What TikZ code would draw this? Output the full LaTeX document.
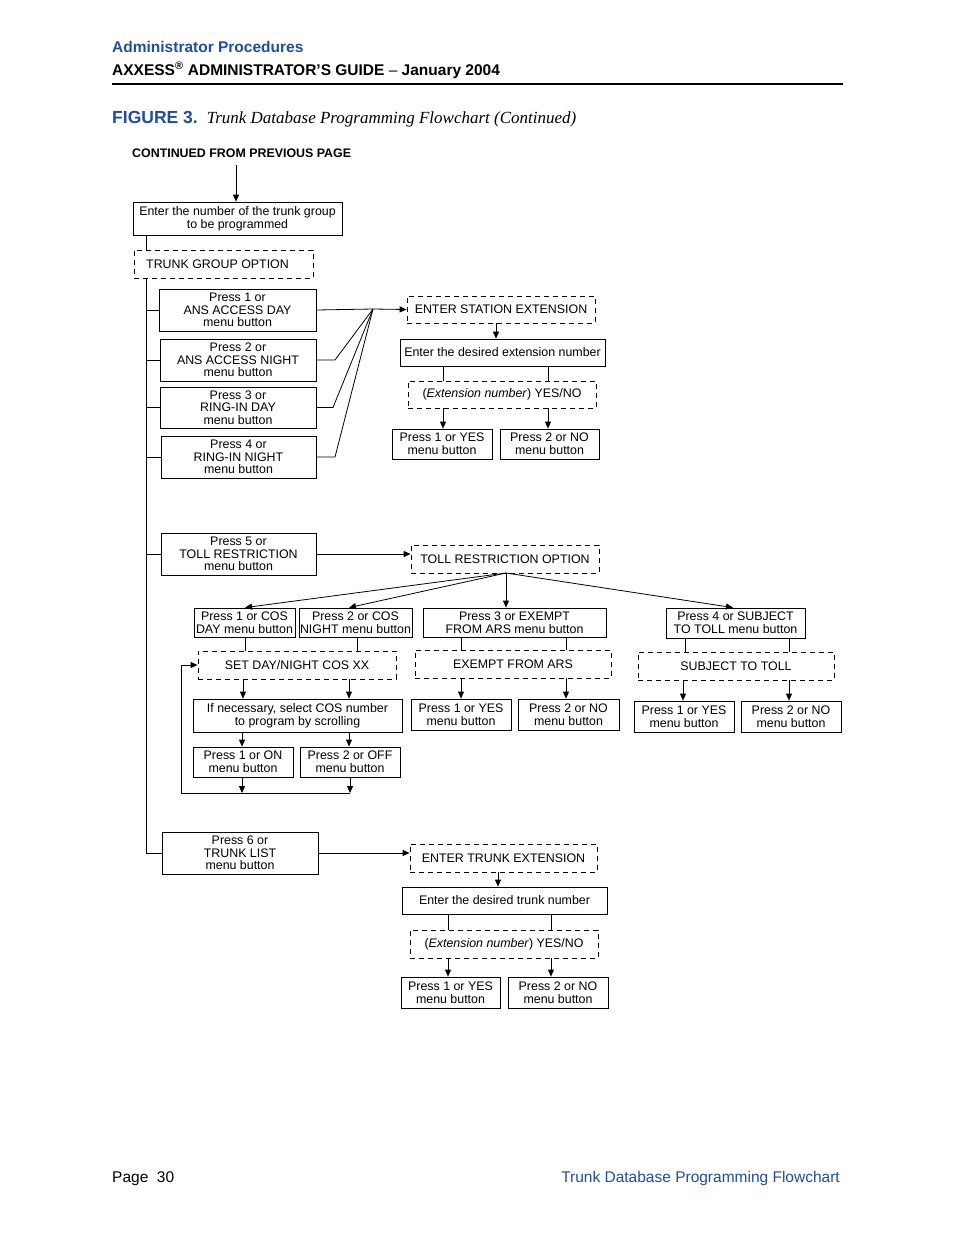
\documentclass[tikz,border=0pt]{standalone}
\usepackage{fontspec}
\setmainfont{Liberation Sans}
\newfontfamily\serifit{Liberation Serif}
\usetikzlibrary{arrows.meta}
\definecolor{hblue}{HTML}{1F4E9C}
\newcommand\Bx[7][sb]{\node[#1,minimum width=#5pt-#3pt,minimum height=#6pt-#4pt] (#2) at ({(#3+#5)/2},{(#4+#6)/2}) {#7};}
\begin{document}
\begin{tikzpicture}[x=1pt,y=-1pt,
  sb/.style={draw,line width=0.8pt,inner sep=0pt,align=center,font=\fontsize{12.4}{12.6}\selectfont},
  db/.style={sb,dash pattern=on 5pt off 4pt},
  ln/.style={line width=0.8pt},
  ar/.style={ln,-{Triangle[width=6pt,length=7pt]}}]
\useasboundingbox (0,0) rectangle (954,1235);
% header
\node[anchor=base west,font=\bfseries\fontsize{15.5}{17}\selectfont,text=hblue,inner sep=0] (h1) at (112,52) {Administrator Procedures};
\node[anchor=base west,font=\bfseries\fontsize{15.5}{17}\selectfont,inner sep=0] (h2) at (112,75) {AXXESS\textsuperscript{®} ADMINISTRATOR’S GUIDE \textmd{–} January 2004};
\draw[line width=2.5pt] (112,84) -- (843,84);
\node[anchor=base west,inner sep=0] (fig) at (112,123) {\textcolor{hblue}{\bfseries\fontsize{17.5}{19}\selectfont FIGURE 3.}\hspace{9pt}{\serifit\itshape\fontsize{17}{19}\selectfont Trunk Database Programming Flowchart (Continued)}};
\node[anchor=base west,font=\bfseries\fontsize{12.4}{14}\selectfont,inner sep=0] (cont) at (132,157) {CONTINUED FROM PREVIOUS PAGE};
\coordinate (top) at (236,165);
\node[anchor=base west,font=\fontsize{15.5}{17}\selectfont,inner sep=0] (pg) at (112,1182) {Page\ \ 30};
\node[anchor=base east,font=\fontsize{15.5}{17}\selectfont,text=hblue,inner sep=0] (ft) at (840,1182) {Trunk Database Programming Flowchart};
% boxes
\Bx{grp}{133}{202}{342}{235}{Enter the number of the trunk group\\to be programmed}
\Bx[db]{tgo}{134}{250}{313}{278}{TRUNK GROUP OPTION\hspace{12pt}}
\Bx{p1}{159}{289}{316}{331}{Press 1 or\\ANS ACCESS DAY\\menu button}
\Bx{p2}{160}{339}{316}{381}{Press 2 or\\ANS ACCESS NIGHT\\menu button}
\Bx{p3}{160}{387}{316}{428}{Press 3 or\\RING-IN DAY\\menu button}
\Bx{p4}{161}{436}{316}{478}{Press 4 or\\RING-IN NIGHT\\menu button}
\Bx[db]{ese}{407}{296}{595}{323}{ENTER STATION EXTENSION}
\Bx{ext}{400}{339}{605}{366}{Enter the desired extension number}
\Bx[db]{yn}{408}{381}{596}{408}{(\textit{Extension number}) YES/NO}
\Bx{y1}{392}{429}{492}{459}{Press 1 or YES\\menu button}
\Bx{n1}{500}{429}{599}{459}{Press 2 or NO\\menu button}
\Bx{p5}{161}{533}{316}{575}{Press 5 or\\TOLL RESTRICTION\\menu button}
\Bx[db]{tro}{411}{545}{599}{573}{TOLL RESTRICTION OPTION}
\Bx{cd}{194}{608}{295}{637}{Press 1 or COS\\DAY menu button}
\Bx{cn}{299}{608}{412}{637}{Press 2 or COS\\NIGHT menu button}
\Bx{ex}{423}{608}{606}{637}{Press 3 or EXEMPT\\FROM ARS menu button}
\Bx{su}{666}{608}{805}{638}{Press 4 or SUBJECT\\TO TOLL menu button}
\Bx[db]{sdn}{198}{651}{396}{679}{SET DAY/NIGHT COS XX}
\Bx{ifn}{193}{699}{402}{732}{If necessary, select COS number\\to program by scrolling}
\Bx{on}{193}{747}{293}{777}{Press 1 or ON\\menu button}
\Bx{off}{300}{747}{400}{777}{Press 2 or OFF\\menu button}
\Bx[db]{efa}{415}{650}{611}{678}{EXEMPT FROM ARS}
\Bx{y3}{411}{699}{511}{730}{Press 1 or YES\\menu button}
\Bx{n3}{518}{699}{619}{730}{Press 2 or NO\\menu button}
\Bx[db]{stt}{638}{652}{834}{680}{SUBJECT TO TOLL}
\Bx{y4}{634}{701}{734}{732}{Press 1 or YES\\menu button}
\Bx{n4}{741}{701}{841}{732}{Press 2 or NO\\menu button}
\Bx{p6}{162}{832}{318}{874}{Press 6 or\\TRUNK LIST\\menu button}
\Bx[db]{ete}{410}{844}{597}{872}{ENTER TRUNK EXTENSION}
\Bx{trn}{402}{887}{607}{914}{Enter the desired trunk number}
\Bx[db]{yn2}{410}{930}{598}{958}{(\textit{Extension number}) YES/NO}
\Bx{y2}{401}{977}{500}{1008}{Press 1 or YES\\menu button}
\Bx{n2}{508}{977}{608}{1008}{Press 2 or NO\\menu button}
% connectors
\draw[ar] (top) -- (top |- grp.north);
\draw[ln] (146,0 |- grp.south) -- (146,0 |- tgo.north);
\draw[ln] (146,0 |- tgo.south) -- (146,0 |- p6.west) -- (p6.west);
\foreach \n in {p1,p2,p3,p4,p5} \draw[ln] (146,0 |- \n.west) -- (\n.west);
\coordinate (J) at (373,309);
\draw[ln] (p1.east) -- (J);
\draw[ar] (J) -- (ese.west);
\draw[ln] (p2.east) -- (335,0 |- p2.east) -- (J);
\draw[ln] (p3.east) -- (333,0 |- p3.east) -- (J);
\draw[ln] (p4.east) -- (335,0 |- p4.east) -- (J);
\draw[ar] (496,0 |- ese.south) -- (496,0 |- ext.north);
\draw[ln] (443,0 |- ext.south) -- (443,0 |- yn.north);
\draw[ln] (548,0 |- ext.south) -- (548,0 |- yn.north);
\draw[ar] (443,0 |- yn.south) -- (443,0 |- y1.north);
\draw[ar] (548,0 |- yn.south) -- (548,0 |- n1.north);
\draw[ar] (p5.east) -- (tro.west |- p5.east);
\coordinate (S) at (506,573);
\draw[ar] (S) -- (245,0 |- cd.north);
\draw[ar] (S) -- (349,0 |- cn.north);
\draw[ar] (S) -- (506,0 |- ex.north);
\draw[ar] (S) -- (733,0 |- su.north);
\draw[ln] (245,0 |- cd.south) -- (245,0 |- sdn.north);
\draw[ln] (357,0 |- cn.south) -- (357,0 |- sdn.north);
\draw[ar] (243,0 |- sdn.south) -- (243,0 |- ifn.north);
\draw[ar] (349,0 |- sdn.south) -- (349,0 |- ifn.north);
\draw[ar] (242,0 |- ifn.south) -- (242,0 |- on.north);
\draw[ar] (349,0 |- ifn.south) -- (349,0 |- off.north);
\coordinate (L) at (181,793);
\draw[ar] (242,0 |- on.south) -- (242,0 |- L);
\draw[ar] (350,0 |- off.south) -- (350,0 |- L);
\draw[ln] (350,0 |- L) -- (L) -- (181,665);
\draw[ar] (181,665) -- (sdn.west |- 0,665);
\draw[ln] (461,0 |- ex.south) -- (461,0 |- efa.north);
\draw[ln] (566,0 |- ex.south) -- (566,0 |- efa.north);
\draw[ar] (461,0 |- efa.south) -- (461,0 |- y3.north);
\draw[ar] (566,0 |- efa.south) -- (566,0 |- n3.north);
\draw[ln] (685,0 |- su.south) -- (685,0 |- stt.north);
\draw[ln] (789,0 |- su.south) -- (789,0 |- stt.north);
\draw[ar] (683,0 |- stt.south) -- (683,0 |- y4.north);
\draw[ar] (789,0 |- stt.south) -- (789,0 |- n4.north);
\draw[ar] (p6.east) -- (ete.west |- p6.east);
\draw[ar] (498,0 |- ete.south) -- (498,0 |- trn.north);
\draw[ln] (448,0 |- trn.south) -- (448,0 |- yn2.north);
\draw[ln] (551,0 |- trn.south) -- (551,0 |- yn2.north);
\draw[ar] (448,0 |- yn2.south) -- (448,0 |- y2.north);
\draw[ar] (551,0 |- yn2.south) -- (551,0 |- n2.north);
\end{tikzpicture}
\end{document}
